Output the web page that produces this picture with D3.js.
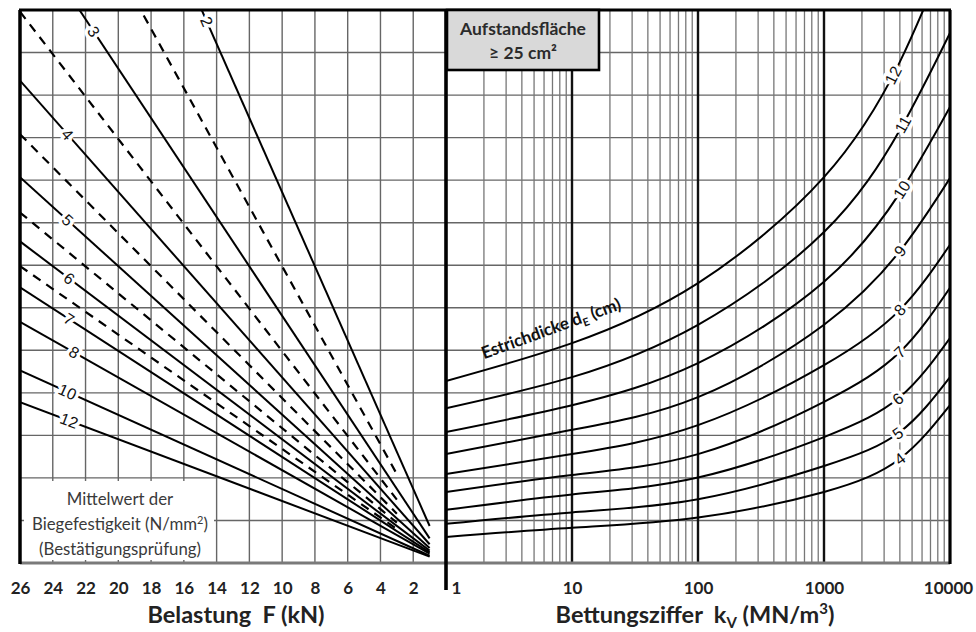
<!DOCTYPE html>
<html><head><meta charset="utf-8">
<script src="https://cdn.jsdelivr.net/npm/d3@7"></script>
<style>
body{margin:0;background:#fff;}
svg{display:block;font-family:Lato,"Open Sans",sans-serif;}
</style></head><body>
<svg id="c" width="976" height="632"></svg>
<script>
// ---------- data ----------
const loadTicks = [26,24,22,20,18,16,14,12,10,8,6,4,2];
const kvTicks = [1,10,100,1000,10000];
// Biegefestigkeit lines (left panel): value on common scale at F=26 kN and at line end
const strengthSolid = [2,3,4,5,6,7,8,10,12];
const solidAt26 = [22.67,15.11,11.34,9.07,7.56,6.48,5.67,4.53,3.78];
const solidEndLoad = 1;
const solidAtEnd = [0.87,0.58,0.44,0.35,0.29,0.25,0.22,0.17,0.15];
const solidLabelLoad = [14.6,21.5,23.1,23.1,23.0,23.0,22.7,23.1,23.0];
const strengthDashed = [2.5,3.5,4.5,5.5,6.5];
const dashedAt26 = [18.14,12.96,10.08,8.24,6.98];
const dashedEndLoad = 3;
const dashedAtEnd = [2.09,1.49,1.16,0.95,0.80];
// Estrichdicke curves (right panel)
const kvPoints = [1,10,100,1000,4000,10000];
const thickness = [4,5,6,7,8,9,10,11,12];
const curveValues = [
  [0.61,0.83,1.07,1.67,2.45,3.71],
  [0.92,1.19,1.50,2.28,3.08,4.37],
  [1.25,1.61,2.01,2.96,3.90,5.29],
  [1.67,2.07,2.56,3.79,4.96,6.47],
  [2.09,2.56,3.24,4.65,5.95,7.48],
  [2.56,3.13,3.90,5.60,7.33,9.05],
  [3.08,3.71,4.70,6.61,8.70,10.72],
  [3.64,4.37,5.60,7.78,10.18,12.46],
  [4.28,5.17,6.58,9.07,11.78,14.53]
];
const curveLabelKv = [4000,3860,3860,4000,4000,4010,4150,4230,3540];

// ---------- scales ----------
const svg = d3.select('#c');
const xL = d3.scaleLinear().domain([26,0]).range([20,446]);
const xR = d3.scaleLog().domain([1,10000]).range([446,950]);
const y = d3.scaleLinear().domain([0,13]).range([563,10]);

const defs = svg.append('defs');
defs.append('clipPath').attr('id','clipL').append('rect')
  .attr('x',xL(26)).attr('y',y(13)).attr('width',xL(0)-xL(26)).attr('height',y(0)-y(13));
defs.append('clipPath').attr('id','clipR').append('rect')
  .attr('x',xR(1)).attr('y',y(13)).attr('width',xR(10000)-xR(1)).attr('height',y(0)-y(13));

const gridColor = '#666';
const grid = svg.append('g');
grid.selectAll('line.h').data(d3.range(1,13)).join('line')
  .attr('x1',xL(26)).attr('x2',xR(10000)).attr('y1',d=>y(d)).attr('y2',d=>y(d))
  .attr('stroke',gridColor).attr('stroke-width',1.4);
grid.selectAll('line.vl').data(loadTicks.slice(1)).join('line')
  .attr('x1',d=>xL(d)).attr('x2',d=>xL(d)).attr('y1',y(0)).attr('y2',y(13))
  .attr('stroke',gridColor).attr('stroke-width',1.4);
const minor = [];
[1,10,100,1000].forEach(dec=>{ for(let m=2;m<=9;m++) minor.push(m*dec); });
grid.selectAll('line.vr').data(minor).join('line')
  .attr('x1',d=>xR(d)).attr('x2',d=>xR(d)).attr('y1',y(0)).attr('y2',y(13))
  .attr('stroke','#777').attr('stroke-width',1.3);
grid.selectAll('line.vd').data([10,100,1000]).join('line')
  .attr('x1',d=>xR(d)).attr('x2',d=>xR(d)).attr('y1',y(0)).attr('y2',y(13))
  .attr('stroke','#111').attr('stroke-width',2.4);

svg.append('rect').attr('x',24).attr('y',481).attr('width',190).attr('height',79).attr('fill','#fff');

// ---------- left panel lines ----------
const gL = svg.append('g').attr('clip-path','url(#clipL)');
const lineL = d3.line().x(d=>xL(d[0])).y(d=>y(d[1]));
gL.selectAll('path.d').data(strengthDashed.map((s,i)=>[[26,dashedAt26[i]],[dashedEndLoad,dashedAtEnd[i]]]))
  .join('path').attr('d',lineL).attr('fill','none').attr('stroke','#000')
  .attr('stroke-width',2.2).attr('stroke-dasharray','9,7');
gL.selectAll('path.s').data(strengthSolid.map((s,i)=>[[26,solidAt26[i]],[solidEndLoad,solidAtEnd[i]]]))
  .join('path').attr('d',lineL).attr('fill','none').attr('stroke','#000').attr('stroke-width',2);

// ---------- right panel curves ----------
const gR = svg.append('g').attr('clip-path','url(#clipR)');
const lineR = d3.line().x(d=>xR(d[0])).y(d=>y(d[1])).curve(d3.curveNatural);
const curvePaths = gR.selectAll('path.c').data(curveValues.map(v=>v.map((val,j)=>[kvPoints[j],val])))
  .join('path').attr('d',lineR).attr('fill','none').attr('stroke','#000').attr('stroke-width',2);

// ---------- borders ----------
const bord = svg.append('g');
bord.append('line').attr('x1',xL(26)).attr('x2',xR(10000)).attr('y1',y(0)).attr('y2',y(0))
  .attr('stroke','#7a7a7a').attr('stroke-width',3);
bord.append('line').attr('x1',xL(26)-1).attr('x2',xR(10000)+1).attr('y1',y(13)).attr('y2',y(13))
  .attr('stroke','#000').attr('stroke-width',3.2);
bord.append('line').attr('x1',xL(26)).attr('x2',xL(26)).attr('y1',y(13)).attr('y2',y(0)+1)
  .attr('stroke','#000').attr('stroke-width',3.5);
bord.append('line').attr('x1',xR(10000)).attr('x2',xR(10000)).attr('y1',y(13)).attr('y2',y(0)+1)
  .attr('stroke','#000').attr('stroke-width',3.2);
bord.append('line').attr('x1',xL(0)).attr('x2',xL(0)).attr('y1',y(13)).attr('y2',590)
  .attr('stroke','#000').attr('stroke-width',3.6);

// box
svg.append('rect').attr('x',447).attr('y',10).attr('width',152).attr('height',60)
  .attr('fill','#d9d9d9').attr('stroke','#000').attr('stroke-width',2.6);
const boxT = svg.append('text').attr('text-anchor','middle').attr('font-weight','bold')
  .attr('font-size',17.5).attr('fill','#2b2b2b');
boxT.append('tspan').attr('x',523).attr('y',35).text('Aufstandsfläche');
boxT.append('tspan').attr('x',523).attr('y',59).text('≥ 25 cm²');

// ---------- labels on left lines ----------
const labL = svg.append('g').attr('font-size',16).attr('fill','#111')
  .attr('font-family','"Liberation Sans",Arial,sans-serif');
strengthSolid.forEach((s,i)=>{
  const F = solidLabelLoad[i];
  const t = (F - solidEndLoad)/(26 - solidEndLoad);
  const v = solidAtEnd[i] + (solidAt26[i]-solidAtEnd[i])*t;
  const px = xL(F), py = y(v);
  const ang = Math.atan2(y(solidAtEnd[i])-y(solidAt26[i]), xL(solidEndLoad)-xL(26))*180/Math.PI;
  labL.append('text').attr('transform',`translate(${px},${py}) rotate(${ang})`)
    .attr('text-anchor','middle').attr('dy','0.35em')
    .attr('stroke','#fff').attr('stroke-width',7).attr('paint-order','stroke')
    .attr('stroke-linejoin','round').text(s);
});

// ---------- labels on right curves ----------
const labR = svg.append('g').attr('font-size',16).attr('fill','#111')
  .attr('font-family','"Liberation Sans",Arial,sans-serif');
curvePaths.each(function(d,i){
  const path = this, len = path.getTotalLength();
  const tx = xR(curveLabelKv[i]);
  let lo=0, hi=len;
  for(let k=0;k<40;k++){ const mid=(lo+hi)/2; if(path.getPointAtLength(mid).x<tx) lo=mid; else hi=mid; }
  const p = path.getPointAtLength(lo);
  const p1 = path.getPointAtLength(Math.max(0,lo-6)), p2 = path.getPointAtLength(Math.min(len,lo+6));
  const ang = Math.atan2(p2.y-p1.y, p2.x-p1.x)*180/Math.PI;
  labR.append('text').attr('transform',`translate(${p.x},${p.y}) rotate(${ang})`)
    .attr('text-anchor','middle').attr('dy','0.35em')
    .attr('stroke','#fff').attr('stroke-width',7).attr('paint-order','stroke')
    .attr('stroke-linejoin','round').text(thickness[i]);
});

// Estrichdicke label
const est = svg.append('text').attr('transform','translate(553,334) rotate(-20)')
  .attr('text-anchor','middle').attr('font-weight','bold').attr('font-size',17).attr('fill','#111');
est.append('tspan').text('Estrichdicke d');
est.append('tspan').attr('font-size',11).attr('dy',4).text('E');
est.append('tspan').attr('dy',-4).text(' (cm)');

// left legend text
const leg = svg.append('text').attr('text-anchor','middle').attr('font-size',16.8).attr('fill','#3a3a3a');
leg.append('tspan').attr('x',120).attr('y',505).text('Mittelwert der');
const l2 = leg.append('tspan').attr('x',120).attr('y',530);
l2.append('tspan').text('Biegefestigkeit (N/mm');
l2.append('tspan').attr('font-size',11).attr('dy',-6).text('2');
l2.append('tspan').attr('dy',6).text(')');
leg.append('tspan').attr('x',120).attr('y',555).text('(Bestätigungsprüfung)');

// ---------- axes ----------
const axL = svg.append('g').attr('transform',`translate(0,${y(0)})`)
  .call(d3.axisBottom(xL).tickValues(loadTicks).tickSize(0).tickPadding(19));
const axR = svg.append('g').attr('transform',`translate(0,${y(0)})`)
  .call(d3.axisBottom(xR).tickValues(kvTicks).tickSize(0).tickPadding(19).tickFormat(d3.format('d')));
[axL,axR].forEach(a=>{
  a.select('.domain').remove();
  a.attr('font-family',null).attr('font-size',null);
  a.selectAll('text').attr('font-size',17).attr('font-weight','bold').attr('fill','#222')
   .attr('font-family','Lato,sans-serif');
});
axR.selectAll('text').filter(d=>d===1).attr('text-anchor','start').attr('dx',5);
axR.selectAll('text').filter(d=>d===10000).attr('dx',-2);

// titles
svg.append('text').attr('x',236).attr('y',623).attr('text-anchor','middle')
  .attr('font-size',23.5).attr('font-weight','bold').attr('fill','#222').style('white-space','pre')
  .text('Belastung  F (kN)');
const tR = svg.append('text').attr('x',695).attr('y',623).attr('text-anchor','middle')
  .attr('font-size',23.5).attr('font-weight','bold').attr('fill','#222').style('white-space','pre');
tR.append('tspan').text('Bettungsziffer  k');
tR.append('tspan').attr('font-size',15).attr('dy',5).text('V');
tR.append('tspan').attr('dy',-5).text(' (MN/m');
tR.append('tspan').attr('font-size',15).attr('dy',-9).text('3');
tR.append('tspan').attr('dy',9).text(')');
</script>
</body></html>
